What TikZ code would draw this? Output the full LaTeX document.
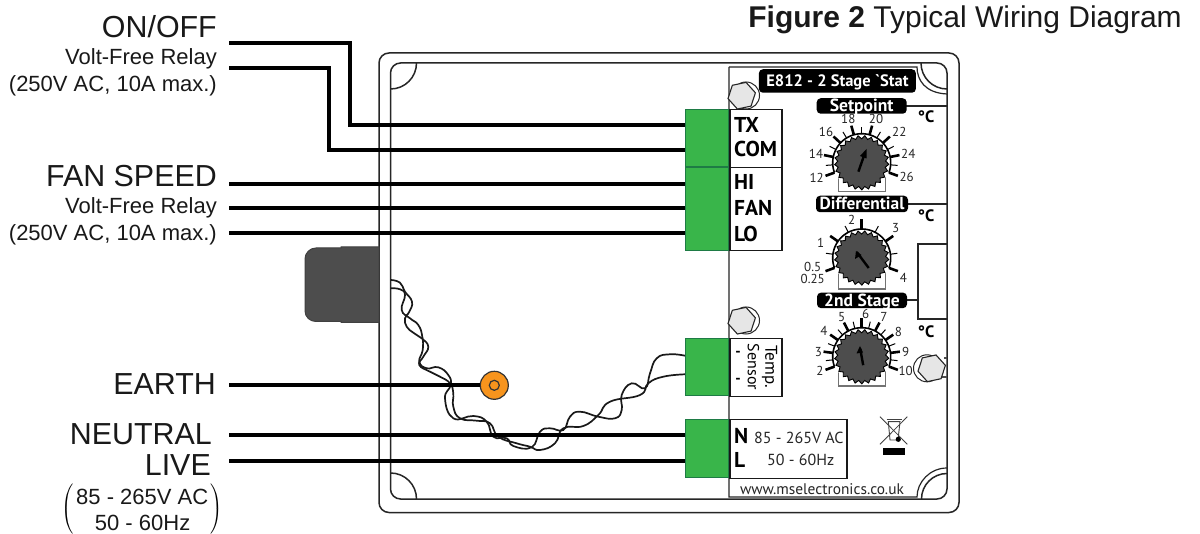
\documentclass[tikz,border=0pt]{standalone}
\usepackage{fontspec}
\setmainfont{Liberation Sans}
\newfontfamily\panelfont{PT Sans}
\usetikzlibrary{shapes.geometric,decorations.pathmorphing}
\definecolor{termgreen}{HTML}{39B54A}
\definecolor{termedge}{HTML}{1E7B45}
\definecolor{knobgrey}{HTML}{4D4D4D}
\definecolor{screwgrey}{HTML}{E6E6E6}
\definecolor{earthorange}{HTML}{F7941D}
\newcommand{\fs}[1]{\fontsize{#1}{#1}\selectfont}
\newcommand{\pilltext}[1]{\raisebox{-0.33em}[0pt][0pt]{#1}}
\tikzset{
  wire/.style={line width=4.6pt,line cap=butt,line join=miter},
  twist/.style={line width=1.7pt,black!90},
  boxline/.style={line width=1.5pt,black!85},
  term/.style={draw=termedge,line width=1.2pt,fill=termgreen,anchor=north west,inner sep=0pt},
  lab/.style={anchor=base east,inner sep=0pt,text=black!90},
  plabel/.style={font=\panelfont\fs{13},inner sep=0pt,text=black!85},
  ptext/.style={font=\panelfont\fs{16},inner sep=0pt,anchor=base west,text=black!85},
  pbold/.style={font=\panelfont\bfseries\fs{21.5},inner sep=0pt,anchor=base west},
  pill/.style={fill=black,rounded corners=4pt,text=white,inner sep=0pt,align=center},
  cdeg/.style={font=\panelfont\bfseries\fs{16.5},inner sep=0pt},
  screwhex/.style={regular polygon,regular polygon sides=6,draw=black!85,line width=1.1pt,fill=screwgrey,minimum size=28pt,inner sep=0pt},
  termbox/.style={draw=black!90,line width=1.5pt,fill=white,anchor=north west,inner sep=0pt}
}
% #1 centre x, #2 centre y, #3 box bottom, #4 major angles, #5 minor angles, #6 pointer tail, #7 pointer head
\newcommand{\myknob}[7]{%
  \begin{scope}[shift={(#1,#2)}]
    \draw[line width=1.2pt,black!55] (-23,{#3-#2}) rectangle (24,0);
    \fill[white] (0,0) circle (28);
    \draw[line width=1.6pt] plot[domain=-200:20,samples=50,smooth] (\x:29);
    \foreach \a in {#4} \draw[line width=2.6pt] (-\a:29) -- (-\a:38.5);
    \foreach \a in {#5} \draw[line width=1pt] (-\a:29) -- (-\a:36);
    \draw[draw=black,fill=knobgrey,line width=0.9pt,decorate,decoration={zigzag,segment length=6.4pt,amplitude=1.6pt}] (0,0) circle (25.5);
    \draw[line width=2.4pt] #6 -- #7;
  \end{scope}}
\begin{document}
\begin{tikzpicture}[x=1pt,y=-1pt]
\useasboundingbox (0,0) rectangle (1200,534);
\fill[white] (0,0) rectangle (1200,534);

% enclosure
\draw[boxline,rounded corners=10pt] (379,53) rectangle (959,512.5);
\draw[boxline,rounded corners=10pt] (390.5,63) rectangle (947,499);
% corner arcs
\draw[boxline] (416.5,63) .. controls (416.5,77.4) and (404.9,89) .. (390.5,89);
\draw[boxline] (416.5,499) .. controls (416.5,484.6) and (404.9,473) .. (390.5,473);
\draw[boxline] (921,63) .. controls (921,77.4) and (932.6,89) .. (947,89);
\draw[boxline] (921.5,499) .. controls (921.5,484.9) and (932.9,473.5) .. (947,473.5);
% panel outline
\draw[line width=1.2pt,black!85] (729,67) -- (917,67) .. controls (917,80) and (925,93) .. (947,94);
\draw[line width=1.2pt,black!85] (729,67) -- (729,497) -- (917,497) .. controls (917,482) and (930,468) .. (947,468);
\draw[line width=1.2pt,black!85] (880,106) -- (947,106);
\draw[line width=1.2pt,black!85] (880,204) -- (947,204);
\draw[line width=1.2pt,black!85] (900,300) -- (918,300);
\draw[line width=1.2pt,black!85] (947,244) -- (918,244) -- (918,319) -- (947,319);
\draw[line width=1.2pt,black!70] (944,358) -- (947,358);
\draw[line width=1.2pt,black!70] (940,377) -- (947,377);

% power-cable connector
\path[fill=knobgrey,draw=black!75,line width=1pt] (379,247) -- (341,247) -- (341,248) -- (316,248)
  to[out=180,in=90] (305,259) -- (305,311) to[out=-90,in=180] (316,321.5) -- (341,321.5) -- (341,322.5) -- (379,322.5) -- cycle;

% twisted pairs
\draw[twist] plot[smooth,tension=0.8] coordinates {(390.7,280)(400,282.7)(405,291.7)(412,301.7)(409.3,311.7)(405,318.3)(406.7,326.7)(413.3,332.7)(421.7,338.3)(428.3,346.7)(423.3,356.7)(419.3,365)(430,371.7)(440,376.7)(450,383.3)(453.3,393.3)(453.3,406.7)(460,418.3)(476.7,420.7)(490,423.3)(498.3,436.7)(516.7,443.3)(530,446.7)(540,450)(555,443.3)(563.3,428.3)(583.3,426)(598.3,415)(610,401.7)(640,395)(648.3,383.3)(663.3,376.7)(685,374.3)};
\draw[twist] plot[smooth,tension=0.8] coordinates {(390.7,288.3)(400,289.3)(405,295)(401.7,310)(410,318.3)(418.3,325)(422.3,336.7)(422.7,350)(419.3,361.7)(426.7,368.3)(438.3,367.3)(448.3,375)(450.7,385)(445,398.3)(453.3,418.3)(473.3,416)(486.7,421.7)(493.3,436.7)(506.7,438.3)(513.3,446)(531.7,447.3)(540,431.7)(550,428.3)(563.3,430)(570,416.7)(580,411.7)(598.3,416.7)(615,418.3)(621.7,410)(621.7,395)(631.7,383.3)(645,388.3)(650,373.3)(656.7,358.3)(670,354.3)(685,355.7)};

% green terminals
\node[term,minimum width=43pt,minimum height=57pt] (tcom) at (685,109) {};
\node[term,minimum width=43pt,minimum height=83pt] (tfan) at (685,167) {};
\node[term,minimum width=43pt,minimum height=57pt] (tsen) at (685,338) {};
\node[term,minimum width=43pt,minimum height=58pt] (tmain) at (685,419) {};

% free wire ends
\coordinate (won) at (229,43);
\coordinate (wcom) at (229,68);
\coordinate (whi) at (229,184);
\coordinate (wfan) at (229,208);
\coordinate (wlo) at (229,233);
\coordinate (wea) at (229,385);
\coordinate (wne) at (229,435);
\coordinate (wli) at (229,461);

% earth stud
\node[circle,draw=black!80,line width=1.2pt,fill=earthorange,minimum size=28pt,inner sep=0pt] (stud) at (494.3,385.3) {};
\node[circle,draw=black!80,line width=1.2pt,fill=earthorange,minimum size=10pt,inner sep=0pt] (studin) at (494.3,385.3) {};

% wires
\draw[wire] (won) -- (350,43) -- (350,125) -- (tcom.west |- 0,125);
\draw[wire] (wcom) -- (329,68) -- (329,150) -- (tcom.west |- 0,150);
\draw[wire] (whi) -- (tfan.west |- whi);
\draw[wire] (wfan) -- (tfan.west |- wfan);
\draw[wire] (wlo) -- (tfan.west |- wlo);
\draw[wire] (wea) -- (stud.west |- wea);
\draw[wire] (wne) -- (tmain.west |- wne);
\draw[wire] (wli) -- (tmain.west |- wli);

% left labels
\node[lab,font=\fs{30.4}] (l1) at (217,38) {ON/OFF};
\node[lab,font=\fs{22}] (l2) at (217,64.5) {Volt-Free Relay};
\node[lab,font=\fs{22}] (l3) at (217,92) {(250V AC, 10A max.)};
\node[lab,font=\fs{30.4}] (l4) at (217,186.5) {FAN SPEED};
\node[lab,font=\fs{22}] (l5) at (217,213.5) {Volt-Free Relay};
\node[lab,font=\fs{22}] (l6) at (217,241) {(250V AC, 10A max.)};
\node[lab,font=\fs{30.4}] (l7) at (216,394.5) {EARTH};
\node[lab,font=\fs{30.4}] (l8) at (212,444.5) {NEUTRAL};
\node[lab,font=\fs{30.4}] (l9) at (211,475.5) {LIVE};
\node[lab,font=\fs{22}] (l10) at (208.5,504.5) {85 - 265V AC};
\node[lab,font=\fs{22}] (l11) at (190.5,530.5) {50 - 60Hz};
\node[inner sep=0pt,scale=1.4] (pl) at (68,509) {$\left(\vcenter{\hbox{\rule{0pt}{36pt}}}\right.$};
\node[inner sep=0pt,scale=1.4] (pr) at (216,509) {$\left.\vcenter{\hbox{\rule{0pt}{36pt}}}\right)$};

% title
\node[anchor=base east,inner sep=0pt,font=\fs{30},text=black!90] (title) at (1182,28) {\textbf{Figure 2} Typical Wiring Diagram};

% terminal label boxes
\node[termbox,minimum width=52pt,minimum height=58pt] (bcom) at (729,109) {};
\node[termbox,minimum width=52pt,minimum height=83pt] (bfan) at (729,167) {};
\node[termbox,minimum width=52pt,minimum height=58pt] (bsen) at (729,338) {};
\node[termbox,minimum width=117pt,minimum height=59pt] (bmain) at (729,419) {};
\node[pbold] (tx) at (734,132.5) {TX};
\node[pbold] (com) at (734,156.5) {COM};
\node[pbold] (hi) at (734,190) {HI};
\node[pbold] (fan) at (734,216) {FAN};
\node[pbold] (lo) at (734,241.5) {LO};
\node[pbold] (nn) at (734,443.3) {N};
\node[pbold] (ll) at (734,467.7) {L};
\node[ptext] (v1) at (754,444) {85 - 265V AC};
\node[ptext] (v2) at (767,465.7) {50 - 60Hz};
\node[font=\panelfont\bfseries\fs{15},inner sep=0pt] (d1) at (738,354) {-};
\node[font=\panelfont\bfseries\fs{15},inner sep=0pt] (d2) at (738,381) {-};
\node[font=\panelfont\fs{17},rotate=-90,inner sep=0pt] (temp) at (769.5,366.5) {Temp.};
\node[font=\panelfont\fs{16},rotate=-90,inner sep=0pt] (sensor) at (753.5,367) {Sensor};
\node[font=\panelfont\fs{15.4},inner sep=0pt,text=black!85] (web) at (822,489) {www.mselectronics.co.uk};

% knobs
\myknob{861.7}{162.7}{191.7}{200,168.6,137.1,105.7,74.3,42.9,11.4,-20}{184.3,152.9,121.4,90,58.6,27.1,-4.3}{(-3.3,9)}{(3,-9)}
\myknob{861.7}{258}{289}{200,145,90,35,-20}{172.5,117.5,62.5,7.5}{(7,10)}{(-5,-6)}
\myknob{861.7}{356.7}{386}{200,172.5,145,117.5,90,62.5,35,7.5,-20}{186.25,158.75,131.25,103.75,76.25,48.75,21.25,-6.25}{(1.5,8.5)}{(-1.5,-8)}
% pointer heads
\fill (866.5,149) -- (860,156) -- (866.5,158.5) -- cycle;
\fill (856,251) -- (855,259) -- (861.5,255) -- cycle;
\fill (860,346) -- (856.5,353.5) -- (863,352.5) -- cycle;

% pills
\node[pill,minimum width=157pt,minimum height=23.5pt,font=\panelfont\bfseries\fs{16.5}] (e812) at (837.4,81) {\pilltext{E812 - 2 Stage `Stat}};
\node[pill,minimum width=90pt,minimum height=15.5pt,font=\panelfont\bfseries\fs{17.6}] (sp) at (861.7,106) {\pilltext{Setpoint}};
\node[pill,minimum width=92pt,minimum height=16.5pt,font=\panelfont\bfseries\fs{17.4}] (df) at (862,204) {\pilltext{Differential}};
\node[pill,minimum width=90pt,minimum height=15.5pt,font=\panelfont\bfseries\fs{17.5}] (st) at (862,300.4) {\pilltext{2nd Stage}};
\node[cdeg] (c1) at (926,117) {°C};
\node[cdeg] (c2) at (926,215.7) {°C};
\node[cdeg] (c3) at (926,332) {°C};

% dial numbers
\node[plabel] (a18) at (848.3,119.3) {18};
\node[plabel] (a20) at (876,119.3) {20};
\node[plabel] (a16) at (826,131.7) {16};
\node[plabel] (a22) at (899.3,131.7) {22};
\node[plabel] (a14) at (816,154.3) {14};
\node[plabel] (a24) at (908.3,154.3) {24};
\node[plabel] (a12) at (816.7,178.3) {12};
\node[plabel] (a26) at (906.7,177.3) {26};
\node[plabel] (b2) at (851.7,220) {2};
\node[plabel] (b3) at (895.7,228.3) {3};
\node[plabel] (b1) at (820.7,243.3) {1};
\node[plabel] (b05) at (812.7,267.3) {0.5};
\node[plabel] (b025) at (812.7,278.7) {0.25};
\node[plabel] (b4) at (903.3,278.3) {4};
\node[plabel] (c5n) at (841.7,317.3) {5};
\node[plabel] (c6n) at (865.7,314) {6};
\node[plabel] (c7n) at (884,316.7) {7};
\node[plabel] (c8n) at (898.3,331.7) {8};
\node[plabel] (c9n) at (905.7,351.7) {9};
\node[plabel] (c10n) at (905.7,370.7) {10};
\node[plabel] (c4n) at (824,330.7) {4};
\node[plabel] (c3n) at (818.3,351.7) {3};
\node[plabel] (c2n) at (820,370.7) {2};

% screws
\draw[line width=1pt,black!85,fill=white] (746,95.5) circle (13.5);
\node[screwhex,rotate=12] (s1) at (741.7,95.7) {};
\draw[line width=1pt,black!85,fill=white] (746,320.5) circle (13.5);
\node[screwhex,rotate=12] (s2) at (741.7,320.7) {};
\draw[line width=1pt,black!85,fill=white] (927,368.3) circle (13.5);
\node[screwhex,rotate=12] (s3) at (931.7,368.3) {};

% WEEE symbol
\draw[line width=0.8pt,black!75] (880,416.7) -- (907.3,444.3) (907.3,416.7) -- (880,444.3);
\draw[line width=0.9pt,black!75] (888.3,421.7) -- (890,440) -- (898,440) -- (900,421.7) -- cycle;
\draw[line width=1.4pt,black!75] (886.5,419.5) -- (901.5,419.5);
\fill (898.3,439.3) circle (2.6);
\fill (882.7,448.3) rectangle (905,455);
\end{tikzpicture}
\end{document}
